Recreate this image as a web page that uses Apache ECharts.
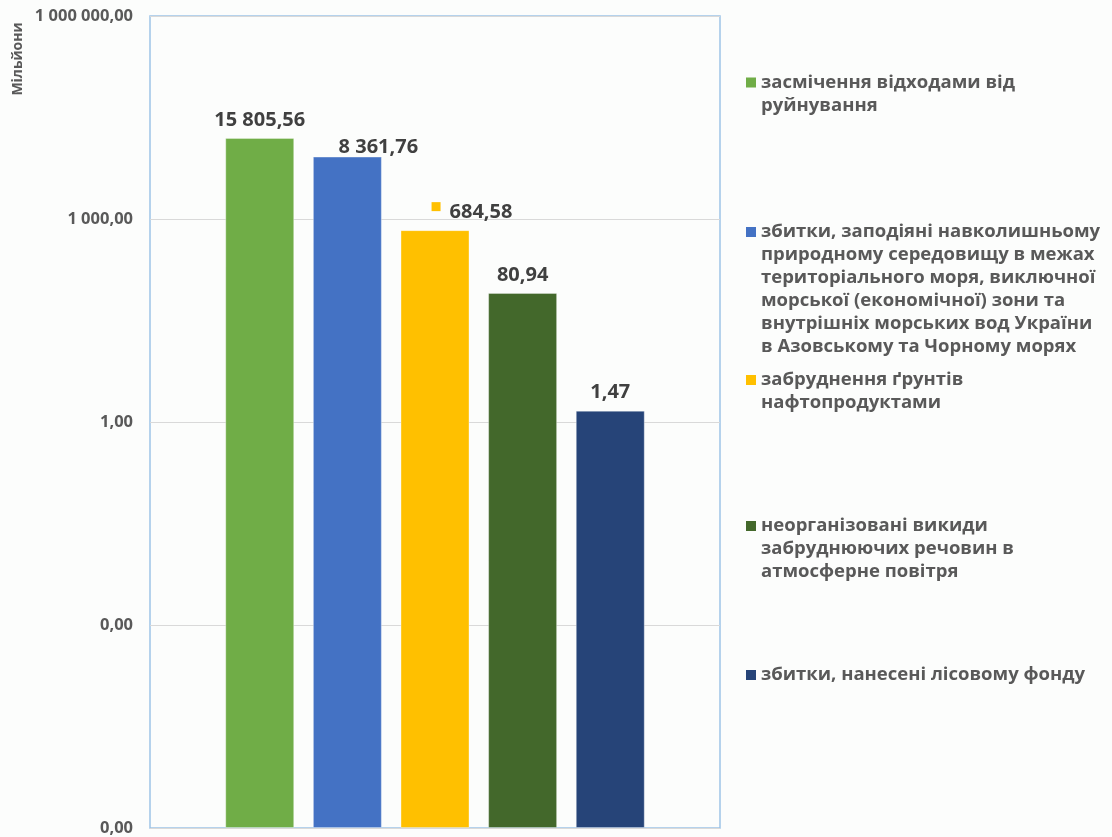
<!DOCTYPE html>
<html>
<head>
<meta charset="utf-8">
<script src="https://cdn.jsdelivr.net/npm/echarts@6/dist/echarts.min.js"></script>
<style>
  html, body { margin: 0; padding: 0; background: #fcfdfc; }
  #chart { width: 1112px; height: 837px; }
</style>
</head>
<body>
<div id="chart"></div>
<script>
// ---- data ----
const seriesNames = [
  'засмічення відходами від\nруйнування',
  'збитки, заподіяні навколишньому\nприродному середовищу в межах\nтериторіального моря, виключної\nморської (економічної) зони та\nвнутрішніх морських вод України\nв Азовському та Чорному морях',
  'забруднення ґрунтів\nнафтопродуктами',
  'неорганізовані викиди\nзабруднюючих речовин в\nатмосферне повітря',
  'збитки, нанесені лісовому фонду'
];
const values = [15805.56, 8361.76, 684.58, 80.94, 1.47];
const yTickValues = [0.000001, 0.001, 1, 1000, 1000000];
const yAxisName = 'Мільйони';

// ---- styles ----
const colors = ['#70AD47', '#4472C4', '#FFC000', '#43682B', '#264478'];
const labelShift = [[0, 0], [31, 9], [37, 0], [0, 0], [0, 0]];
const legendLineCenters = [82.5, 232, 380, 526, 675];
const LH = 23;

function fmt(v) {
  const r = Math.round(v * 100) / 100;
  const s = r.toFixed(2);
  const parts = s.split('.');
  const i = parts[0].replace(/\B(?=(\d{3})+(?!\d))/g, ' ');
  return i + ',' + parts[1];
}

const chart = echarts.init(document.getElementById('chart'));

const series = values.map((v, idx) => {
  const lbl = {
    show: true,
    position: 'top',
    distance: 8,
    offset: labelShift[idx],
    color: '#404040',
    fontFamily: 'Open Sans',
    fontWeight: 'bold',
    fontSize: 20,
    formatter: () => fmt(v)
  };
  if (idx === 2) {
    lbl.formatter = () => '{sq|}{v|' + fmt(v) + '}';
    lbl.rich = {
      sq: { width: 9, height: 9, backgroundColor: colors[2], verticalAlign: 'top' },
      v: { color: '#404040', fontFamily: 'Open Sans', fontWeight: 'bold', fontSize: 20, padding: [0, 0, 0, 9] }
    };
  }
  return {
    name: seriesNames[idx],
    type: 'bar',
    data: [v],
    barWidth: 69,
    barGap: '27%',
    itemStyle: { color: colors[idx], borderColor: 'rgba(255,255,255,0.35)', borderWidth: 1 },
    label: lbl
  };
});

const legends = seriesNames.map((name, idx) => {
  const n = name.split('\n').length;
  const H = 10 + (n - 1) * LH;
  return {
    data: [name],
    orient: 'vertical',
    left: 746,
    top: legendLineCenters[idx] - LH / 2,
    padding: 0,
    itemWidth: 10,
    itemHeight: H,
    symbolKeepAspect: false,
    icon: 'path://M0,0L10,0L10,10L0,10Z M0,' + H + 'L0.01,' + H + 'L0,' + H + 'Z',
    itemStyle: { borderWidth: 0 },
    selectedMode: false,
    textStyle: {
      color: '#595959',
      fontFamily: 'Open Sans',
      fontWeight: 'bold',
      fontSize: 18.5,
      lineHeight: LH
    }
  };
});

chart.setOption({
  backgroundColor: '#fcfdfc',
  animation: false,
  grid: {
    left: 150, right: 392, top: 16, bottom: 9,
    show: true, borderColor: '#9DC3E6', borderWidth: 1.5, backgroundColor: 'transparent'
  },
  legend: legends,
  xAxis: {
    type: 'category',
    data: [''],
    axisLine: { show: false },
    axisTick: { show: false },
    axisLabel: { show: false },
    splitLine: { show: false }
  },
  yAxis: {
    type: 'log',
    logBase: 1000,
    min: yTickValues[0],
    max: yTickValues[yTickValues.length - 1],
    startValue: yTickValues[0],
    splitNumber: 4,
    axisLine: { show: false },
    axisTick: { show: false },
    splitLine: { show: true, lineStyle: { color: '#D9D9D9', width: 1 } },
    axisLabel: {
      margin: 17,
      color: '#595959',
      fontFamily: 'Open Sans',
      fontWeight: 'bold',
      fontSize: 16.5,
      formatter: (v) => fmt(v)
    }
  },
  graphic: [{
    type: 'text',
    x: 18.5,
    y: 59,
    rotation: Math.PI / 2,
    style: {
      text: yAxisName,
      align: 'center',
      verticalAlign: 'middle',
      fill: '#595959',
      font: 'bold 14px "Open Sans"'
    }
  }],
  series: series
});
</script>
</body>
</html>
